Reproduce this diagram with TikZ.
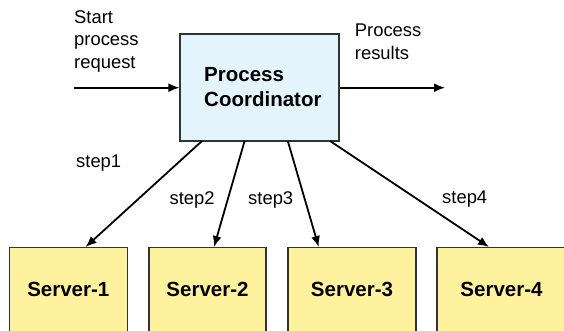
\documentclass[tikz,border=0pt]{standalone}
\usepackage{fontspec}
\setmainfont{Liberation Sans}
\usetikzlibrary{arrows.meta}
\definecolor{coordfill}{HTML}{E3F4FC}
\definecolor{serverfill}{HTML}{FFF29F}
\definecolor{edgegray}{HTML}{333333}
\begin{document}
\begin{tikzpicture}[x=1pt,y=-1pt,
  boxstyle/.style={draw=edgegray,line width=1.2pt,inner sep=0pt},
  coordbox/.style={boxstyle,fill=coordfill,minimum width=159pt,minimum height=107pt},
  serverbox/.style={boxstyle,fill=serverfill,anchor=north,minimum height=96pt,
    font=\fontsize{20.5}{24}\selectfont\bfseries,text depth=12pt},
  boldtxt/.style={font=\fontsize{20.5}{24.3}\selectfont\bfseries,align=left,inner sep=0pt},
  plaintxt/.style={font=\fontsize{18.4}{22.5}\selectfont,align=left,inner sep=0pt},
  arr/.style={-{Latex[length=11pt,width=9pt]},line width=1.8pt,black}]
\useasboundingbox (0,0) rectangle (564,331);
\clip (0,0) rectangle (564,331);
% coordinator
\node[coordbox] (coord) at (259.5,87.5) {};
\node[boldtxt,anchor=west] (coordtxt) at (204,87) {Process\\Coordinator};
% servers
\node[serverbox,minimum width=118pt] (s1) at (68.3,247) {Server-1};
\node[serverbox,minimum width=117pt] (s2) at (207.5,247) {Server-2};
\node[serverbox,minimum width=128pt] (s3) at (352,247) {Server-3};
\node[serverbox,minimum width=129pt] (s4) at (501.5,247) {Server-4};
% input / output
\coordinate (inA) at (74,87.7);
\coordinate (outB) at (445,87.7);
\draw[arr] (inA) -- (coord.west |- inA);
\draw[arr] (coord.east |- outB) -- (outB);
\node[plaintxt,anchor=west] (starttxt) at (74,41) {Start\\process\\request};
\node[plaintxt,anchor=west] (resulttxt) at (354.7,42) {Process\\results};
% steps
\coordinate (c1) at (202,141);
\coordinate (c2) at (244.6,141);
\coordinate (c3) at (287.8,141);
\coordinate (c4) at (330,141);
\coordinate (e1) at (85.6,247);
\coordinate (e2) at (214,247);
\coordinate (e3) at (318.7,247);
\coordinate (e4) at (489,247);
\draw[arr] (c1) -- (e1);
\draw[arr] (c2) -- (e2);
\draw[arr] (c3) -- (e3);
\draw[arr] (c4) -- (e4);
\node[plaintxt,anchor=west] (st1) at (76,163.3) {step1};
\node[plaintxt,anchor=west] (st2) at (169.4,200) {step2};
\node[plaintxt,anchor=west] (st3) at (248,200) {step3};
\node[plaintxt,anchor=west] (st4) at (442,199) {step4};
\end{tikzpicture}
\end{document}
